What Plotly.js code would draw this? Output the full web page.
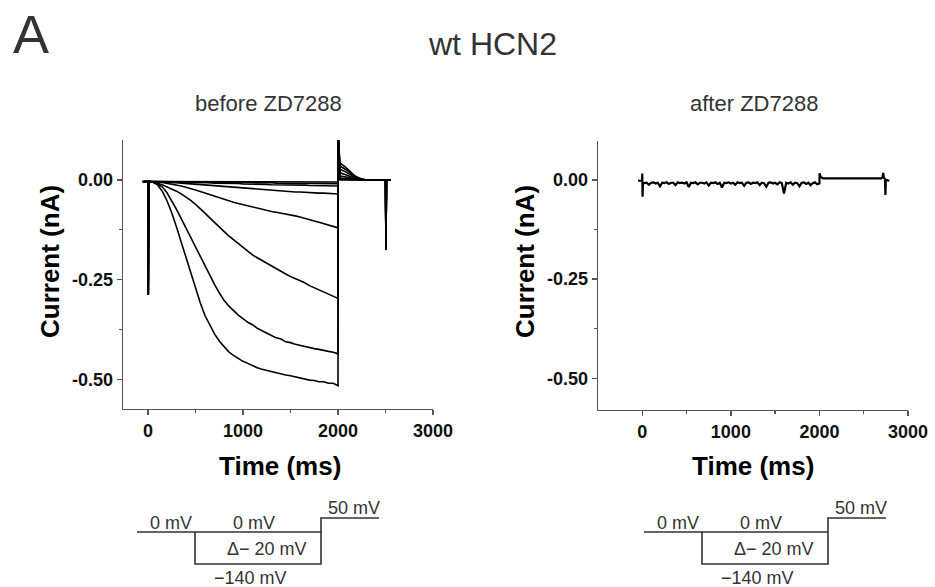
<!DOCTYPE html>
<html><head><meta charset="utf-8">
<script src="https://cdn.plot.ly/plotly-3.0.1.min.js"></script>
<style>html,body{margin:0;padding:0;background:#fff;}#chart{width:935px;height:587px;}</style>
</head><body><div id="chart"></div>
<script>
// ---------- data ----------
const stepLabels = ['0 mV','-20 mV','-40 mV','-60 mV','-80 mV','-100 mV','-120 mV','-140 mV'];

// holding segment and capacitive spike at step onset
const holdTime    = [-55, 0, 3, 8];
const holdCurrent = [-0.004, -0.004, -0.287, -0.004];

// hyperpolarising step (ms)
const stepTime = [20,50,100,150,200,250,300,350,400,450,500,550,600,650,700,750,800,850,900,950,1000,1050,1100,1150,1200,1250,1300,1350,1400,1450,1500,1550,1600,1650,1700,1750,1800,1850,1900,1950,2000];

const cur0   = [-0.004,-0.004,-0.004,-0.004,-0.004,-0.004,-0.004,-0.004,-0.004,-0.004,-0.004,-0.004,-0.004,-0.004,-0.004,-0.004,-0.004,-0.004,-0.004,-0.004,-0.005,-0.005,-0.005,-0.005,-0.005,-0.005,-0.005,-0.005,-0.005,-0.005,-0.005,-0.005,-0.005,-0.005,-0.005,-0.005,-0.005,-0.005,-0.005,-0.005,-0.005];
const cur20  = [-0.004,-0.004,-0.004,-0.004,-0.004,-0.004,-0.004,-0.005,-0.005,-0.005,-0.005,-0.005,-0.005,-0.006,-0.006,-0.006,-0.006,-0.006,-0.006,-0.006,-0.007,-0.007,-0.007,-0.007,-0.007,-0.007,-0.007,-0.008,-0.008,-0.008,-0.008,-0.008,-0.008,-0.008,-0.008,-0.009,-0.009,-0.009,-0.009,-0.009,-0.009];
const cur40  = [-0.004,-0.004,-0.004,-0.004,-0.004,-0.005,-0.005,-0.005,-0.006,-0.006,-0.006,-0.007,-0.007,-0.007,-0.008,-0.008,-0.008,-0.009,-0.009,-0.009,-0.010,-0.010,-0.010,-0.011,-0.011,-0.011,-0.012,-0.012,-0.012,-0.012,-0.013,-0.013,-0.013,-0.013,-0.014,-0.014,-0.014,-0.014,-0.015,-0.015,-0.015];
const cur60  = [-0.004,-0.004,-0.004,-0.005,-0.005,-0.006,-0.007,-0.008,-0.009,-0.010,-0.011,-0.012,-0.013,-0.014,-0.015,-0.016,-0.017,-0.018,-0.019,-0.020,-0.021,-0.022,-0.023,-0.024,-0.024,-0.025,-0.026,-0.027,-0.028,-0.028,-0.029,-0.030,-0.030,-0.031,-0.032,-0.032,-0.033,-0.033,-0.034,-0.034,-0.035];
const cur80  = [-0.004,-0.004,-0.005,-0.006,-0.008,-0.010,-0.012,-0.015,-0.018,-0.021,-0.025,-0.029,-0.033,-0.037,-0.041,-0.045,-0.049,-0.053,-0.056,-0.059,-0.062,-0.065,-0.068,-0.071,-0.073,-0.076,-0.079,-0.081,-0.083,-0.085,-0.087,-0.090,-0.093,-0.097,-0.100,-0.103,-0.106,-0.110,-0.113,-0.117,-0.120];
const cur100 = [-0.004,-0.005,-0.008,-0.012,-0.017,-0.022,-0.028,-0.035,-0.042,-0.051,-0.061,-0.071,-0.083,-0.095,-0.107,-0.119,-0.129,-0.140,-0.150,-0.160,-0.170,-0.179,-0.188,-0.195,-0.202,-0.209,-0.217,-0.223,-0.231,-0.236,-0.242,-0.247,-0.254,-0.258,-0.265,-0.270,-0.276,-0.280,-0.287,-0.290,-0.297];
const cur120 = [-0.004,-0.005,-0.010,-0.017,-0.032,-0.052,-0.074,-0.097,-0.121,-0.146,-0.170,-0.194,-0.218,-0.240,-0.262,-0.283,-0.302,-0.316,-0.328,-0.339,-0.348,-0.357,-0.363,-0.372,-0.378,-0.385,-0.390,-0.396,-0.399,-0.406,-0.408,-0.412,-0.415,-0.418,-0.420,-0.423,-0.425,-0.428,-0.430,-0.432,-0.436];
const cur140 = [-0.004,-0.005,-0.012,-0.028,-0.052,-0.082,-0.118,-0.157,-0.196,-0.233,-0.271,-0.308,-0.340,-0.365,-0.386,-0.404,-0.419,-0.431,-0.440,-0.448,-0.455,-0.460,-0.466,-0.471,-0.475,-0.478,-0.480,-0.484,-0.486,-0.489,-0.491,-0.494,-0.497,-0.499,-0.502,-0.503,-0.506,-0.506,-0.510,-0.510,-0.516];

// capacitive transient at the step to +50 mV, then tail currents
const capTime = [2001];
const capCurrent = [0.115];
const tailTime = [2020, 2075, 2125, 2180, 2230, 2300, 2500];
const tail0   = [0.000, 0.000, 0.000, 0.000, 0.000, 0.000, 0.000];
const tail20  = [0.002, 0.002, 0.001, 0.000, 0.000, 0.000, 0.000];
const tail40  = [0.005, 0.004, 0.003, 0.001, 0.000, 0.000, 0.000];
const tail60  = [0.010, 0.008, 0.005, 0.002, 0.001, 0.000, 0.000];
const tail80  = [0.018, 0.014, 0.009, 0.004, 0.002, 0.000, 0.000];
const tail100 = [0.027, 0.021, 0.013, 0.006, 0.002, 0.000, 0.000];
const tail120 = [0.035, 0.027, 0.017, 0.008, 0.003, 0.000, 0.000];
const tail140 = [0.043, 0.033, 0.021, 0.010, 0.004, 0.000, 0.000];
// return to holding
const endTime = [2505, 2510, 2555];
const endCurrent = [-0.175, 0.000, 0.000];

const stepCurrents = [cur0, cur20, cur40, cur60, cur80, cur100, cur120, cur140];
const tailCurrents = [tail0, tail20, tail40, tail60, tail80, tail100, tail120, tail140];

// after ZD7288 (single trace)
const afterTime = [-48,-2,0,3,7,
 25,50,75,100,125,150,175,200,225,250,275,300,325,350,375,400,425,450,475,500,525,550,575,600,625,650,675,700,725,750,775,800,825,850,875,900,925,950,975,1000,
 1025,1050,1075,1100,1125,1150,1175,1200,1225,1250,1275,1300,1325,1350,1375,1400,1425,1450,1475,1500,1525,1550,1575,1600,1625,1650,1675,1700,1725,1750,1775,1800,1825,1850,1875,1900,1925,1950,1975,
 1995,2000,2002,2012,2040,2100,2150,2200,2250,2300,2350,2400,2450,2500,2550,2600,2650,2700,2712,2720,2728,2740,2745,2750,2790];
const afterCurrent = [-0.002,-0.002,0.016,-0.042,-0.008,
 -0.008,-0.007,-0.012,-0.007,-0.006,-0.009,-0.007,-0.016,-0.007,-0.008,
 -0.006,-0.010,-0.007,-0.007,-0.013,-0.006,-0.008,-0.007,-0.009,-0.006,
 -0.018,-0.007,-0.008,-0.006,-0.011,-0.007,-0.007,-0.009,-0.006,-0.014,
 -0.007,-0.008,-0.006,-0.010,-0.007,-0.019,-0.007,-0.008,-0.006,-0.009,
 -0.007,-0.012,-0.006,-0.008,-0.007,-0.015,-0.007,-0.006,-0.010,-0.007,
 -0.008,-0.006,-0.013,-0.007,-0.008,-0.017,-0.007,-0.006,-0.009,-0.007,
 -0.011,-0.006,-0.008,-0.034,-0.007,-0.009,-0.006,-0.012,-0.007,-0.008,
 -0.016,-0.007,-0.006,-0.010,-0.007,-0.013,-0.008,-0.006,-0.011,
 -0.008,-0.009,0.017,0.008,0.004,0.004,0.003,0.004,0.003,0.004,0.003,0.004,0.003,0.004,0.003,0.004,0.003,0.004,0.007,0.018,0.005,0.003,-0.038,0.000,-0.002];

// axis ticks
const timeTicks = [0, 1000, 2000, 3000];
const timeTickText = ['0', '1000', '2000', '3000'];
const timeMinor = [500, 1500, 2500];
const currentTicks = [0, -0.25, -0.5];
const currentTickText = ['0.00', '-0.25', '-0.50'];
const currentMinor = [-0.125, -0.375];

// ---------- figure ----------
const W = 935, H = 587;
const px = x => x / W, py = y => 1 - y / H;
const FONT = 'Liberation Sans, Arial, Helvetica, sans-serif';

const traces = [];
stepCurrents.forEach((vals, k) => {
  traces.push({
    type: 'scatter', mode: 'lines', name: stepLabels[k],
    x: holdTime.concat(stepTime, capTime, tailTime, endTime),
    y: holdCurrent.concat(vals, capCurrent, tailCurrents[k], endCurrent),
    xaxis: 'x', yaxis: 'y',
    line: {color: '#000', width: 1.6}, hoverinfo: 'skip', showlegend: false
  });
});
traces.push({
  type: 'scatter', mode: 'lines', name: 'after ZD7288',
  x: afterTime, y: afterCurrent, xaxis: 'x2', yaxis: 'y2',
  line: {color: '#000', width: 2.2}, hoverinfo: 'skip', showlegend: false
});

const axisBase = {
  showgrid: false, zeroline: false, showline: true, linecolor: '#555', linewidth: 1.3,
  ticks: 'outside', ticklen: 5, tickwidth: 1.3, tickcolor: '#555', fixedrange: true,
  tickfont: {family: FONT, size: 18, color: '#111', weight: 'bold'}, tickmode: 'array'
};
const minorBase = {ticks: 'outside', ticklen: 3, tickwidth: 1.3, tickcolor: '#555', showgrid: false};

const layout = {
  width: W, height: H, margin: {l: 0, r: 0, t: 0, b: 0},
  paper_bgcolor: '#fff', plot_bgcolor: '#fff', showlegend: false,
  xaxis: Object.assign({}, axisBase, {domain: [px(123), px(433)], range: [-263, 3000], anchor: 'y',
    tickvals: timeTicks, ticktext: timeTickText, minor: Object.assign({tickvals: timeMinor}, minorBase)}),
  yaxis: Object.assign({}, axisBase, {domain: [py(409), py(140)], range: [-0.5745, 0.1003], anchor: 'x',
    tickvals: currentTicks, ticktext: currentTickText, minor: Object.assign({tickvals: currentMinor}, minorBase)}),
  xaxis2: Object.assign({}, axisBase, {domain: [px(598), px(908)], range: [-500, 3000], anchor: 'y2',
    tickvals: timeTicks, ticktext: timeTickText, minor: Object.assign({tickvals: timeMinor}, minorBase)}),
  yaxis2: Object.assign({}, axisBase, {domain: [py(410), py(140.7)], range: [-0.580, 0.099], anchor: 'x2',
    tickvals: currentTicks, ticktext: currentTickText, minor: Object.assign({tickvals: currentMinor}, minorBase)}),
  annotations: [],
  shapes: []
};

function ann(text, x, y, size, opts) {
  layout.annotations.push(Object.assign({
    text: text, xref: 'paper', yref: 'paper', x: px(x), y: py(y),
    xanchor: 'center', yanchor: 'middle', showarrow: false,
    font: {family: FONT, size: size, color: '#333'}
  }, opts || {}));
}
ann('A', 11, 34, 54, {xanchor: 'left'});
ann('wt HCN2', 493, 44, 32);
ann('before ZD7288', 268, 103, 22);
ann('after ZD7288', 754, 103, 22);
ann('Current (nA)', 50, 262, 26, {textangle: -90, font: {family: FONT, size: 26, color: '#000', weight: 'bold'}});
ann('Current (nA)', 525, 262, 26, {textangle: -90, font: {family: FONT, size: 26, color: '#000', weight: 'bold'}});
ann('Time (ms)', 280, 466, 26, {font: {family: FONT, size: 26, color: '#000', weight: 'bold'}});
ann('Time (ms)', 753, 466, 26, {font: {family: FONT, size: 26, color: '#000', weight: 'bold'}});

// voltage protocol sketches
function protocol(x0) {
  const pts = [[x0, 532], [x0 + 58, 532], [x0 + 58, 564], [x0 + 184, 564], [x0 + 184, 518], [x0 + 242, 518]];
  let d = 'M' + pts.map(p => px(p[0]) + ',' + py(p[1])).join(' L');
  d += ' M' + px(x0 + 58) + ',' + py(532) + ' L' + px(x0 + 184) + ',' + py(532);
  layout.shapes.push({type: 'path', xref: 'paper', yref: 'paper', path: d, line: {color: '#333', width: 1.6}});
  ann('0 mV', x0 + 34, 523, 18);
  ann('0 mV', x0 + 117, 523, 18);
  ann('\u0394\u2212 20 mV', x0 + 130, 549, 18);
  ann('\u2212140 mV', x0 + 113, 578, 18);
  ann('50 mV', x0 + 217, 508, 18);
}
protocol(137);
protocol(644);

Plotly.newPlot('chart', traces, layout, {staticPlot: true, displayModeBar: false});
</script>
</body></html>
